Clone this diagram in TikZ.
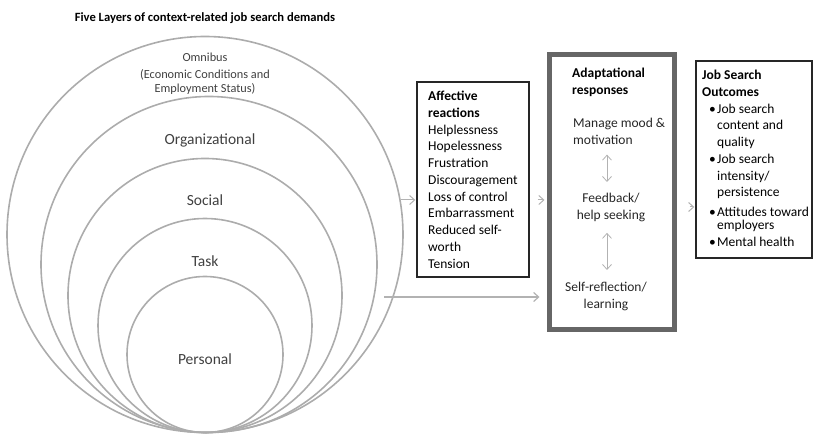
\documentclass[tikz,border=0pt]{standalone}
\usepackage{fontspec}
\setmainfont{Carlito}
\usetikzlibrary{arrows.meta, positioning, calc}

\newcommand{\bul}{\hspace*{7pt}\makebox[8pt][l]{\textbullet}}
\newcommand{\ind}{\hspace*{15pt}}

\begin{document}
\begin{tikzpicture}[
  x=1pt, y=-1pt,
  >={Straight Barb[length=5pt,width=9pt]},
  layer/.style={circle, draw=gray!65, line width=1.6pt, inner sep=0pt},
  layerlabel/.style={text=black!75, font=\fontsize{15.5}{18}\selectfont, inner sep=0pt},
  omnilabel/.style={text=black!75, font=\fontsize{12.3}{14.5}\selectfont, inner sep=0pt},
  box/.style={draw=black!85, line width=1.4pt, inner sep=0pt},
  body/.style={font=\fontsize{13.5}{16.75}\selectfont, align=left, inner sep=0pt},
  flow/.style={->, draw=gray!60, line width=1pt},
  swap/.style={<->, draw=gray!60, line width=0.8pt},
]
\useasboundingbox (0,0) rectangle (815,435);

% --- Five layers (nested circles, all touching at the bottom) ---
\node[font=\bfseries\fontsize{12.6}{15}\selectfont] (title) at (205,18.5) {Five Layers of context-related job search demands};
\node[layer, minimum size=396] (omni) at (205,234.5) {};
\node[layer, minimum size=336] (org) at (209,264.5) {};
\node[layer, minimum size=274] (soc) at (205,295.5) {};
\node[layer, minimum size=214] (task) at (205,325.5) {};
\node[layer, minimum size=156] (pers) at (205,354.5) {};
\node[omnilabel] (omnititle) at (205,57) {Omnibus};
\node[omnilabel, align=center] (omnisub) at (205,82) {(Economic Conditions and\\Employment Status)};
\node[layerlabel] (orglabel) at (210,140) {Organizational};
\node[layerlabel] (soclabel) at (205,200) {Social};
\node[layerlabel] (tasklabel) at (205,261) {Task};
\node[layerlabel] (perslabel) at (205,359) {Personal};

% --- Affective reactions ---
\node[box, minimum width=112, minimum height=195] (aff) at (473,179.5) {};
\node[body, anchor=north west] (afftext) at (428,91) {\textbf{Affective}\\\textbf{reactions}\\Helplessness\\Hopelessness\\Frustration\\Discouragement\\Loss of control\\Embarrassment\\Reduced self-\\worth\\Tension};

% --- Adaptational responses ---
\node[draw=black!60, line width=5pt, minimum width=125, minimum height=275, inner sep=0pt] (adapt) at (612,192) {};
\node[body, anchor=north west] (adapthead) at (572,68) {\textbf{Adaptational}\\\textbf{responses}};
\node[body, anchor=north west, text=black!85] (manage) at (573,118) {Manage mood \&\\motivation};
\node[body, align=center, anchor=north, text=black!85] (fb) at (611,193) {Feedback/\\help seeking};
\node[body, align=center, anchor=north, text=black!85] (selfref) at (606,282) {Self-reflection/\\learning};
\draw[swap, shorten <=10pt, shorten >=11pt] ([xshift=-4pt]fb.north |- manage.south) -- ([xshift=-4pt]fb.north);
\draw[swap, shorten <=11pt, shorten >=12pt] ([xshift=-4pt]fb.south) -- ([xshift=-4pt]fb.south |- selfref.north);

% --- Job search outcomes ---
\node[box, minimum width=116, minimum height=197] (out) at (754,159.5) {};
\node[body, anchor=north west] (outtext) at (702,70) {\textbf{Job Search}\\\textbf{Outcomes}\\\bul Job search\\\ind content and\\\ind quality\\\bul Job search\\\ind intensity/\\\ind persistence\\[3pt]\bul Attitudes toward\\[-4pt]\ind employers\\\bul Mental health};

% Arrows between stages
\coordinate (yaff) at (0,200);
\coordinate (yout) at (0,207);
\coordinate (ctx) at (384,297);
\draw[flow, shorten >=1pt] (omni.10) -- (aff.west |- omni.10);
\draw[flow, shorten <=8pt, shorten >=2.5pt] (aff.east |- yaff) -- (adapt.west |- yaff);
\draw[flow, shorten <=12.5pt, shorten >=1pt] (adapt.east |- yout) -- (out.west |- yout);
\draw[flow, line width=1.2pt, shorten >=7.5pt] (ctx) -- (adapt.west |- ctx);

\end{tikzpicture}
\end{document}
